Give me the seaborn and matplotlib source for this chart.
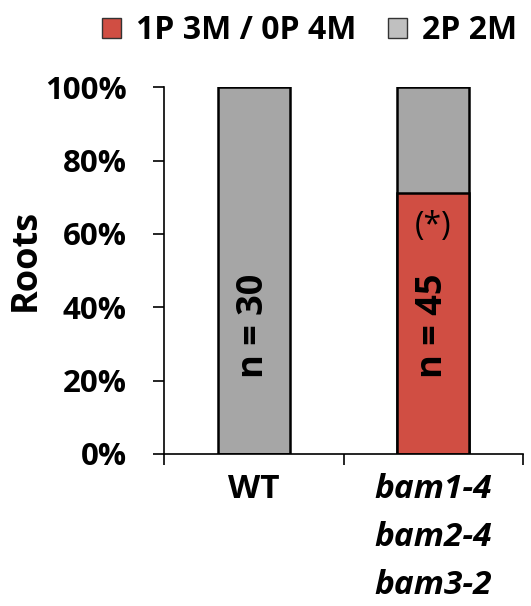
import matplotlib
matplotlib.use("Agg")
import matplotlib.pyplot as plt
import seaborn as sns
import pandas as pd
from matplotlib.patches import Patch
from matplotlib.ticker import FixedLocator

categories = ["WT", "bam1-4\nbam2-4\nbam3-2"]
red_pct = [0.0, 71.1]      # 1P 3M / 0P 4M
gray_pct = [100.0, 28.9]   # 2P 2M
n_labels = ["n = 30", "n = 45"]
legend_labels = ["1P 3M / 0P 4M", "2P 2M"]
y_ticks = [0, 20, 40, 60, 80, 100]

RED = "#D04E43"
GRAY = "#A6A6A6"
GRAY_LEG = "#C0C0C0"

sns.set_theme(style="white")
plt.rcParams['font.family'] = ['Open Sans', 'DejaVu Sans']
plt.rcParams['font.weight'] = 'bold'
plt.rcParams['text.color'] = 'black'
plt.rcParams['xtick.color'] = 'black'
plt.rcParams['ytick.color'] = 'black'
plt.rcParams['axes.labelcolor'] = 'black'

FS_Y = 22.5
FS_X = 24
FS_N = 26
FS_LAB = 26
FS_LEG = 23
FS_STAR = 23

df = pd.DataFrame({"cat": categories,
                   "total": [r + g for r, g in zip(red_pct, gray_pct)],
                   "red": red_pct})

fig = plt.figure(figsize=(5.31, 6.06), dpi=100)
ax = fig.add_axes([0.309, 0.251, 0.676, 0.605])

sns.barplot(data=df, x="cat", y="total", color=GRAY, width=0.4,
            edgecolor="black", linewidth=1.8, ax=ax, saturation=1)
sns.barplot(data=df, x="cat", y="red", color=RED, width=0.4,
            edgecolor="black", linewidth=1.8, ax=ax, saturation=1)

ax.set_ylim(0, 100)
ax.set_xlim(-0.5, 1.5)
ax.set_yticks(y_ticks)
ax.set_yticklabels([f"{t}%" for t in y_ticks], fontsize=FS_Y, fontweight="bold")
ax.set_ylabel("Roots", fontsize=FS_LAB, fontweight="bold")
ax.yaxis.set_label_coords(-0.335, 0.528, transform=ax.transAxes)
ax.set_xlabel("")

ax.set_xticks([0, 1])
ax.set_xticklabels(categories, fontsize=FS_X, fontweight="bold", linespacing=1.6)
tl = ax.get_xticklabels()
tl[1].set_style("italic")
ax.tick_params(axis="x", which="major", length=0, pad=14)
ax.xaxis.set_minor_locator(FixedLocator([-0.5, 0.5, 1.5]))
ax.tick_params(axis="x", which="minor", length=8, width=1.2, color="black", direction="out", bottom=True)
ax.tick_params(axis="y", which="major", length=8, width=1.2, color="black", direction="out", left=True, pad=19)

for s in ["top", "right"]:
    ax.spines[s].set_visible(False)
for s in ["left", "bottom"]:
    ax.spines[s].set_color("black")
    ax.spines[s].set_linewidth(1.2)

for i, lab in enumerate(n_labels):
    ax.text(i, 35, lab, rotation=90, ha="center", va="center",
            fontsize=FS_N, fontweight="bold", color="black")
ax.text(1, 62, "(*)", ha="center", va="center", fontsize=FS_STAR, color="black",
        fontweight="normal")

handles = [Patch(facecolor=RED, edgecolor="#333333", linewidth=1),
           Patch(facecolor=GRAY_LEG, edgecolor="#333333", linewidth=1)]
fig.legend(handles, legend_labels, ncol=2, loc="upper right",
           bbox_to_anchor=(1.0, 1.0), frameon=False,
           prop={"size": FS_LEG, "weight": "bold"},
           handlelength=0.6, handleheight=0.6, handletextpad=0.45,
           columnspacing=1.0, borderaxespad=0.05)

fig.savefig("out.png", dpi=100)
